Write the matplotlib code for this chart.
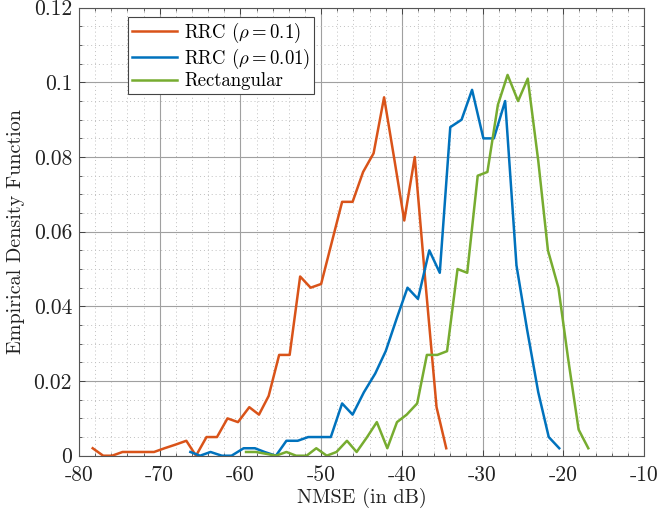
import matplotlib
matplotlib.use('Agg')
import matplotlib.pyplot as plt
from matplotlib.ticker import FixedLocator, FixedFormatter, MultipleLocator

plt.rcParams['font.family'] = 'serif'
plt.rcParams['font.serif'] = ['cmr10', 'DejaVu Serif']
plt.rcParams['mathtext.fontset'] = 'cm'
plt.rcParams['axes.unicode_minus'] = False

# RRC (rho = 0.1)
x_rrc1 = [-78.3, -77.0, -75.9, -74.6, -73.3, -72.0, -70.7, -69.4, -68.0, -66.7,
          -65.5, -64.2, -62.9, -61.6, -60.3, -58.9, -57.7, -56.5, -55.2, -53.9,
          -52.6, -51.3, -50.0, -48.7, -47.4, -46.1, -44.8, -43.5, -42.2, -40.9,
          -39.7, -38.4, -37.1, -35.7, -34.5]
y_rrc1 = [0.002, 0.0, 0.0, 0.001, 0.001, 0.001, 0.001, 0.002, 0.003, 0.004,
          0.0, 0.005, 0.005, 0.010, 0.009, 0.013, 0.011, 0.016, 0.027, 0.027,
          0.048, 0.045, 0.046, 0.057, 0.068, 0.068, 0.076, 0.081, 0.096, 0.079,
          0.063, 0.080, 0.047, 0.013, 0.002]

# RRC (rho = 0.01)
x_rrc01 = [-66.2, -65.0, -63.7, -62.3, -61.1, -59.6, -58.2, -57.0, -55.6, -54.3,
           -52.9, -51.6, -50.2, -48.8, -47.4, -46.1, -44.7, -43.3, -42.0, -40.6,
           -39.3, -38.0, -36.6, -35.3, -34.0, -32.6, -31.3, -29.9, -28.6, -27.2,
           -25.8, -24.5, -23.1, -21.8, -20.5]
y_rrc01 = [0.001, 0.0, 0.001, 0.0, 0.0, 0.002, 0.002, 0.001, 0.0, 0.004,
           0.004, 0.005, 0.005, 0.005, 0.014, 0.011, 0.017, 0.022, 0.028, 0.037,
           0.045, 0.042, 0.055, 0.049, 0.088, 0.090, 0.098, 0.085, 0.085, 0.095,
           0.051, 0.034, 0.017, 0.005, 0.002]

# Rectangular
x_rect = [-59.3, -58.1, -56.8, -55.6, -54.3, -53.1, -51.8, -50.6, -49.3, -48.1,
          -46.8, -45.6, -44.3, -43.1, -41.8, -40.6, -39.4, -38.1, -36.9, -35.6,
          -34.4, -33.1, -31.9, -30.6, -29.4, -28.1, -26.9, -25.6, -24.4, -23.1,
          -21.9, -20.6, -19.4, -18.1, -16.9]
y_rect = [0.001, 0.001, 0.0005, 0.0, 0.001, 0.0, 0.0, 0.002, 0.0, 0.001,
          0.004, 0.001, 0.005, 0.009, 0.002, 0.009, 0.011, 0.014, 0.027, 0.027,
          0.028, 0.050, 0.049, 0.075, 0.076, 0.094, 0.102, 0.095, 0.101, 0.079,
          0.055, 0.045, 0.026, 0.007, 0.002]

xticks = [-80, -70, -60, -50, -40, -30, -20, -10]
xtick_labels = ['-80', '-70', '-60', '-50', '-40', '-30', '-20', '-10']
yticks = [0, 0.02, 0.04, 0.06, 0.08, 0.1, 0.12]
ytick_labels = ['0', '0.02', '0.04', '0.06', '0.08', '0.1', '0.12']

fig = plt.figure(figsize=(6.57, 5.14), dpi=100)
ax = fig.add_axes([0.1202, 0.1134, 0.8600, 0.8716])

ax.plot(x_rrc1, y_rrc1, color='#D95319', lw=1.8, label=r'RRC ($\rho = 0.1$)')
ax.plot(x_rrc01, y_rrc01, color='#0072BD', lw=1.8, label=r'RRC ($\rho = 0.01$)')
ax.plot(x_rect, y_rect, color='#77AC30', lw=1.8, label='Rectangular')

ax.set_xlim(-80, -10)
ax.set_ylim(0, 0.12)
ax.xaxis.set_major_locator(FixedLocator(xticks))
ax.xaxis.set_major_formatter(FixedFormatter(xtick_labels))
ax.yaxis.set_major_locator(FixedLocator(yticks))
ax.yaxis.set_major_formatter(FixedFormatter(ytick_labels))
ax.xaxis.set_minor_locator(MultipleLocator(2))
ax.yaxis.set_minor_locator(MultipleLocator(0.005))

ax.grid(True, which='major', color='#a0a0a0', linestyle='-', lw=0.8)
ax.grid(True, which='minor', color='#c0c0c0', linestyle=(0, (1, 3)), lw=0.7)
ax.set_axisbelow(True)

ax.tick_params(which='both', direction='in', top=True, right=True, colors='#444444',
               labelcolor='#222222', labelsize=15.5)
ax.tick_params(axis='x', which='major', pad=7)
ax.tick_params(axis='y', which='major', pad=5)
ax.tick_params(which='major', length=4, width=0.7)
ax.tick_params(which='minor', length=2, width=0.6)
for s in ax.spines.values():
    s.set_color('#555555')
    s.set_linewidth(0.8)

ax.set_xlabel('NMSE (in dB)', fontsize=14.5, color='#222222', labelpad=2)
ax.set_ylabel('Empirical Density Function', fontsize=14.5, color='#222222', labelpad=6)

leg = ax.legend(loc='upper left', bbox_to_anchor=(0.087, 0.98), fontsize=13.5,
                frameon=True, fancybox=False, framealpha=1, edgecolor='#444444',
                handlelength=2.4, borderpad=0.2, labelspacing=0.1,
                handletextpad=0.4, borderaxespad=0)
leg.get_frame().set_linewidth(0.8)

fig.savefig('out.png', dpi=100)
